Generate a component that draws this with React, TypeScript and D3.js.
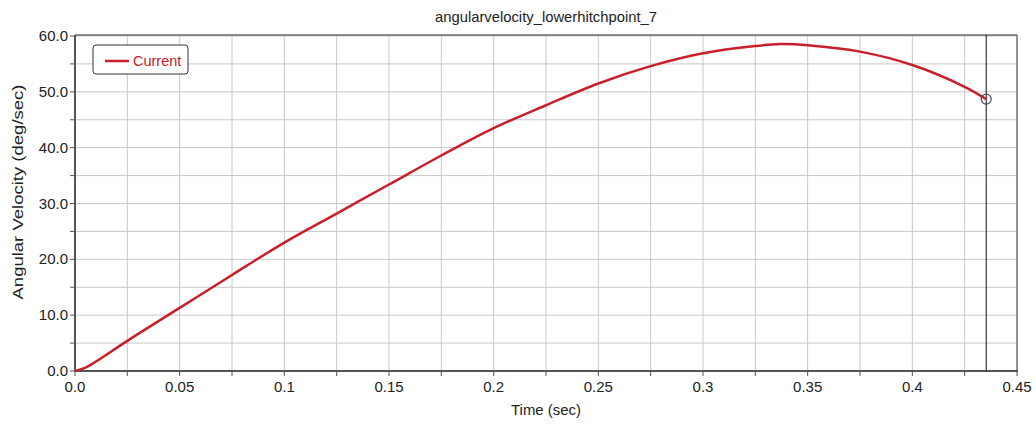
import React from "react";
import * as d3 from "d3";

const timeValues = [0, 0.005, 0.01, 0.025, 0.05, 0.075, 0.1, 0.125, 0.15, 0.175, 0.2, 0.225, 0.25, 0.275, 0.3, 0.325, 0.337, 0.35, 0.375, 0.4, 0.425, 0.4353];
const velocityValues = [0, 0.6, 1.7, 5.4, 11.3, 17.2, 23.0, 28.2, 33.4, 38.6, 43.5, 47.6, 51.5, 54.6, 56.9, 58.2, 58.55, 58.35, 57.2, 54.8, 50.9, 48.7];
const xTickLabels = ["0.0", "0.05", "0.1", "0.15", "0.2", "0.25", "0.3", "0.35", "0.4", "0.45"];
const yTickLabels = ["0.0", "10.0", "20.0", "30.0", "40.0", "50.0", "60.0"];
const cursorTime = 0.4353;
const cursorValue = 48.7;
const seriesName = "Current";

const W = 1036, H = 424;
const L = 75, R = 1017, T = 36, B = 371;
const FONT = "'Liberation Sans', Arial, sans-serif";

export default function App() {
  const x = d3.scaleLinear().domain([0, 0.45]).range([L, R]);
  const y = d3.scaleLinear().domain([0, 60]).range([B, T]);
  const data = timeValues.map((t, i) => [t, velocityValues[i]] as [number, number]);
  const line = d3.line<[number, number]>().x(d => x(d[0])).y(d => y(d[1])).curve(d3.curveCatmullRom.alpha(0.5));
  const xGrid = d3.range(0, 19).map(i => i * 0.025);
  const yGrid = d3.range(0, 13).map(i => i * 5);
  return (
    <svg width={W} height={H} style={{ position: "absolute", left: 0, top: 0, background: "#fff" }} fontFamily={FONT}>
      <rect x={0} y={0} width={W} height={H} fill="#fff" />
      {xGrid.map((v, i) => (
        <line key={"xg" + i} x1={x(v)} x2={x(v)} y1={T} y2={B} stroke="#c8c8c8" strokeWidth={1} />
      ))}
      {yGrid.map((v, i) => (
        <line key={"yg" + i} x1={L} x2={R} y1={y(v)} y2={y(v)} stroke="#c8c8c8" strokeWidth={1} />
      ))}
      {/* border */}
      <line x1={L} x2={R} y1={T - 1} y2={T - 1} stroke="#222" strokeWidth={1} />
      <line x1={R} x2={R} y1={T - 1} y2={B} stroke="#444" strokeWidth={1} />
      {/* axes */}
      <line x1={L} x2={L} y1={T - 1} y2={B + 1} stroke="#555" strokeWidth={2} />
      <line x1={L - 1} x2={R + 1} y1={B} y2={B} stroke="#555" strokeWidth={2} />
      {xGrid.map((v, i) => (
        <line key={"xt" + i} x1={x(v)} x2={x(v)} y1={B} y2={B + 5} stroke="#555" strokeWidth={1} />
      ))}
      {yGrid.map((v, i) => (
        <line key={"yt" + i} x1={L - 5} x2={L} y1={y(v)} y2={y(v)} stroke="#555" strokeWidth={1} />
      ))}
      {xTickLabels.map((s, i) => (
        <text key={"xl" + i} x={x(i * 0.05)} y={B + 21} textAnchor="middle" fontSize={15} fill="#222">{s}</text>
      ))}
      {yTickLabels.map((s, i) => (
        <text key={"yl" + i} x={L - 7} y={y(i * 10) + 5} textAnchor="end" fontSize={15} fill="#222">{s}</text>
      ))}
      {/* cursor */}
      <line x1={x(cursorTime)} x2={x(cursorTime)} y1={T - 1} y2={B} stroke="#111" strokeWidth={1} />
      <path d={line(data) || ""} fill="none" stroke="#c8202a" strokeWidth={2.5} strokeLinejoin="round" />
      <circle cx={x(cursorTime)} cy={y(cursorValue)} r={5} fill="none" stroke="#445" strokeWidth={1.2} />
      {/* legend */}
      <rect x={93} y={45} width={95} height={29} rx={3} fill="#fff" stroke="#333" strokeWidth={1} />
      <line x1={105} x2={129} y1={61} y2={61} stroke="#c8202a" strokeWidth={2.5} />
      <text x={133} y={66} fontSize={14.5} fill="#c8202a">{seriesName}</text>
      {/* titles */}
      <text x={546} y={22} textAnchor="middle" fontSize={14.5} fill="#222" textLength={222} lengthAdjust="spacingAndGlyphs">angularvelocity_lowerhitchpoint_7</text>
      <text x={546} y={415} textAnchor="middle" fontSize={15} fill="#222" textLength={70} lengthAdjust="spacingAndGlyphs">Time (sec)</text>
      <text transform={`translate(23, 192) rotate(-90)`} textAnchor="middle" fontSize={15} fill="#222" textLength={215} lengthAdjust="spacingAndGlyphs">Angular Velocity (deg/sec)</text>
    </svg>
  );
}
